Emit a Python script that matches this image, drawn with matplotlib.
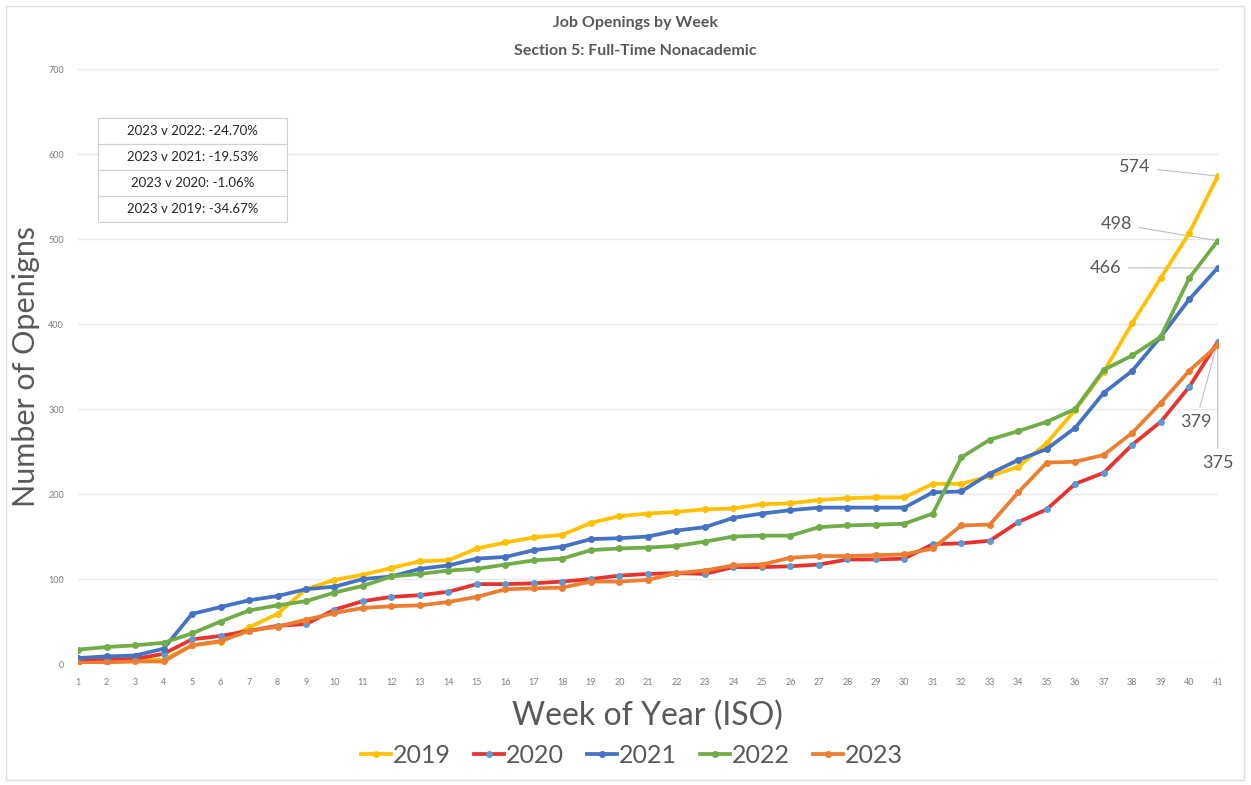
import matplotlib.pyplot as plt
from matplotlib.patches import Rectangle

FONT = ["Lato", "DejaVu Sans"]
GREY = "#595959"

weeks = list(range(1, 42))

y2019 = [3, 5, 5, 5, 22, 26, 43, 59, 88, 99, 105, 113, 121, 122, 136, 143, 149, 152, 166, 174,
         177, 179, 182, 183, 188, 189, 193, 195, 196, 196, 212, 212, 221, 232, 260, 299, 344, 401,
         454, 507, 574]
y2020 = [3, 5, 6, 12, 29, 33, 39, 45, 47, 64, 74, 79, 81, 85, 94, 94, 95, 97, 100, 104,
         106, 107, 106, 114, 114, 115, 117, 123, 123, 124, 141, 142, 145, 167, 182, 212, 225, 258,
         285, 326, 379]
y2021 = [7, 9, 10, 18, 59, 67, 75, 80, 88, 91, 100, 103, 112, 116, 124, 126, 134, 138, 147, 148,
         150, 157, 161, 172, 177, 181, 184, 184, 184, 184, 202, 203, 224, 240, 253, 278, 319, 345,
         385, 429, 466]
y2022 = [17, 20, 22, 25, 36, 50, 63, 69, 74, 84, 92, 103, 106, 110, 112, 117, 122, 124, 134, 136,
         137, 139, 144, 150, 151, 151, 161, 163, 164, 165, 177, 243, 264, 274, 285, 300, 346, 363,
         385, 454, 498]
y2023 = [1, 2, 3, 3, 22, 27, 39, 44, 52, 60, 66, 68, 69, 73, 79, 88, 89, 90, 97, 97,
         99, 107, 110, 116, 117, 125, 127, 127, 128, 129, 136, 163, 164, 202, 237, 238, 246, 272,
         307, 345, 375]

years = ["2019", "2020", "2021", "2022", "2023"]
series = [y2019, y2020, y2021, y2022, y2023]
line_colors = ["#FFC000", "#E8322F", "#4472C4", "#70AD47", "#ED7D31"]
marker_colors = ["#FFC000", "#5B9BD5", "#4472C4", "#70AD47", "#ED7D31"]

comparisons = ["2023 v 2022: -24.70%", "2023 v 2021: -19.53%",
               "2023 v 2020: -1.06%", "2023 v 2019: -34.67%"]


def main() -> None:
    fig = plt.figure(figsize=(12.51, 7.85), dpi=100)
    ax = fig.add_axes([0.0624, 0.1541, 0.911, 0.758])

    for name, vals, lc, mc in zip(years, series, line_colors, marker_colors):
        ax.plot(weeks, vals, color=lc, lw=2.7, marker="o", markersize=4,
                markerfacecolor=mc, markeredgecolor=mc, label=name, zorder=3)

    ax.set_xlim(1, 41)
    ax.set_ylim(0, 700)
    ax.set_xticks(weeks)
    ax.set_yticks(range(0, 701, 100))
    ax.tick_params(length=0, labelsize=6.5, labelcolor="#7F7F7F", pad=10)
    for lab in ax.get_xticklabels() + ax.get_yticklabels():
        lab.set_family(FONT)
    ax.grid(axis="y", color="#E9E9E9", lw=1)
    ax.set_axisbelow(True)
    for s in ax.spines.values():
        s.set_visible(False)

    ax.set_xlabel("Week of Year (ISO)", fontsize=23, color=GREY, family=FONT, labelpad=10)
    ax.set_ylabel("Number of Openigns", fontsize=22, color=GREY, family=FONT, labelpad=6)

    fig.text(0.508, 0.971, "Job Openings by Week", ha="center", va="center",
             fontsize=11.5, fontweight="bold", color=GREY, family=FONT)
    fig.text(0.508, 0.935, "Section 5: Full-Time Nonacademic", ha="center", va="center",
             fontsize=11.5, fontweight="bold", color=GREY, family=FONT)

    leg = fig.legend(loc="center", bbox_to_anchor=(0.505, 0.038), ncol=5, frameon=False,
                     prop={"family": FONT, "size": 18}, handlelength=1.2,
                     handletextpad=0.1, columnspacing=0.9)
    for t in leg.get_texts():
        t.set_color(GREY)

    # end-of-line value labels: 2019, 2020, 2021, 2022, 2023
    offsets = [(-67, 9), (-22, -80), (-96, 0), (-86, 17), (0, -118)]
    has = ["right", "center", "right", "right", "center"]
    for vals, off, ha in zip(series, offsets, has):
        ax.annotate(str(vals[-1]), xy=(weeks[-1], vals[-1]), xytext=off,
                    textcoords="offset pixels", ha=ha, va="center", fontsize=13,
                    color=GREY, family=FONT,
                    arrowprops=dict(arrowstyle="-", color="#BFBFBF", lw=0.8,
                                    shrinkA=3, shrinkB=0), zorder=2)

    # comparison boxes
    bx, bw, bh = 98 / 1251, 189 / 1251, 26 / 785
    top = 1 - 118 / 785
    for i, txt in enumerate(comparisons):
        y0 = top - (i + 1) * bh
        fig.patches.append(Rectangle((bx, y0), bw, bh, transform=fig.transFigure,
                                     facecolor="white", edgecolor="#D0D0D0", lw=0.8))
        fig.text(bx + bw / 2, y0 + bh / 2, txt, ha="center", va="center",
                 fontsize=9.5, color="#262626", family=FONT)

    fig.patches.append(Rectangle((6 / 1251, 5 / 785), 1238 / 1251, 774 / 785,
                                 transform=fig.transFigure, fill=False,
                                 edgecolor="#E0E0E0", lw=1))

    fig.savefig("out.png", dpi=100)


if __name__ == "__main__":
    main()
